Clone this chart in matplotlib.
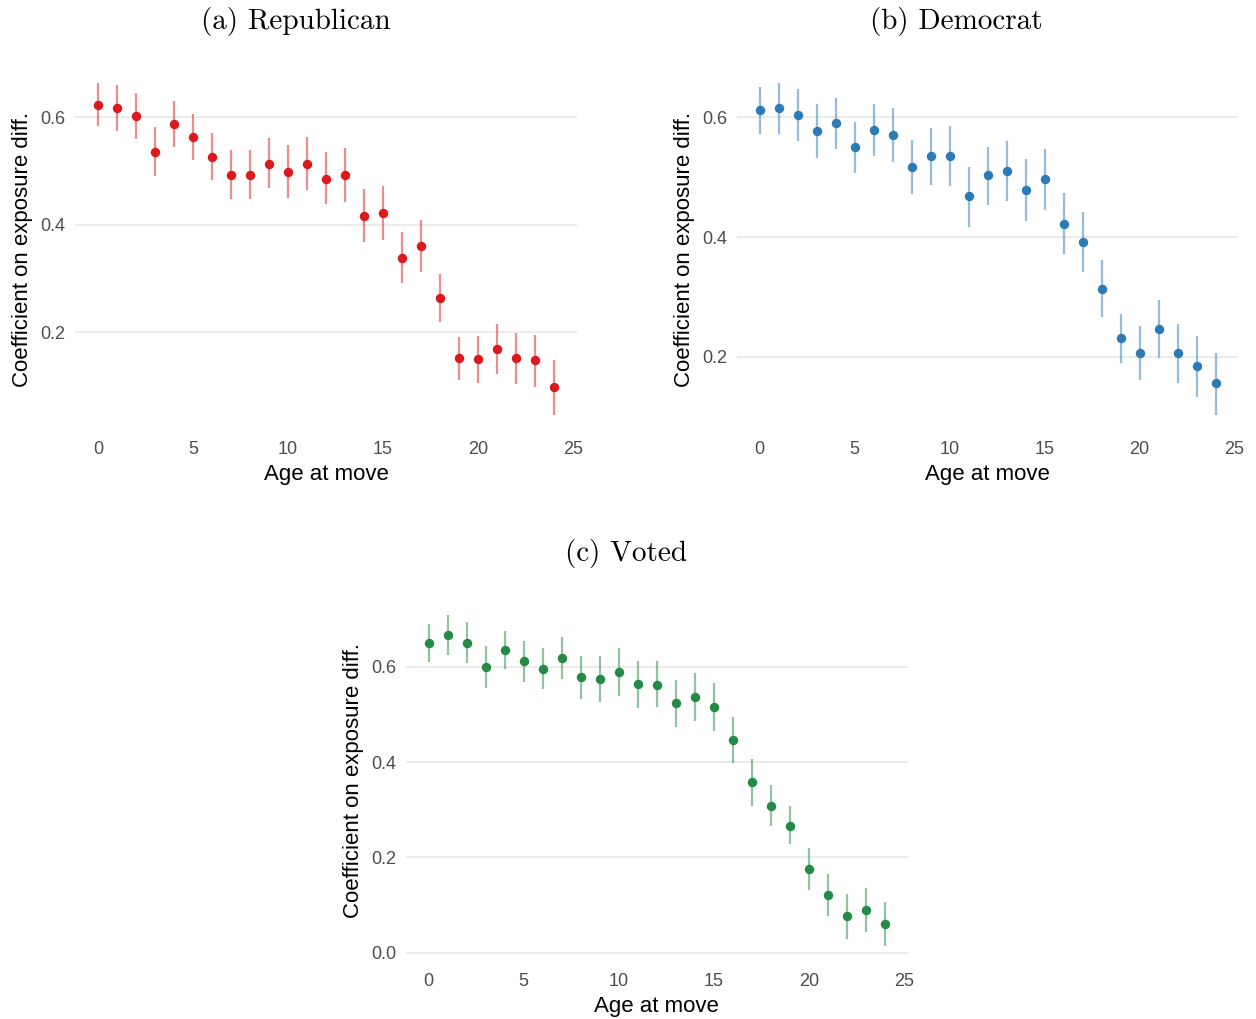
import numpy as np
import matplotlib
matplotlib.use("Agg")
import matplotlib.pyplot as plt

# age at move
ages = np.arange(0, 25)

# (a) Republican
rep_est = [0.623, 0.617, 0.602, 0.536, 0.588, 0.563, 0.527, 0.493, 0.493, 0.514,
           0.499, 0.513, 0.486, 0.493, 0.417, 0.422, 0.339, 0.360, 0.264, 0.152,
           0.150, 0.169, 0.153, 0.148, 0.098]
rep_lo = [0.583, 0.575, 0.559, 0.491, 0.545, 0.520, 0.483, 0.448, 0.448, 0.468,
          0.450, 0.465, 0.438, 0.443, 0.368, 0.371, 0.291, 0.312, 0.219, 0.112,
          0.106, 0.123, 0.105, 0.099, 0.047]
rep_hi = [0.663, 0.660, 0.646, 0.581, 0.630, 0.606, 0.571, 0.539, 0.539, 0.561,
          0.548, 0.563, 0.535, 0.542, 0.466, 0.473, 0.387, 0.409, 0.309, 0.191,
          0.193, 0.215, 0.199, 0.196, 0.148]

# (b) Democrat
dem_est = [0.612, 0.615, 0.604, 0.577, 0.591, 0.550, 0.579, 0.570, 0.517, 0.535,
           0.536, 0.468, 0.503, 0.511, 0.479, 0.497, 0.422, 0.392, 0.314, 0.232,
           0.207, 0.246, 0.206, 0.184, 0.156]
dem_lo = [0.572, 0.573, 0.560, 0.532, 0.548, 0.507, 0.535, 0.525, 0.472, 0.487,
          0.485, 0.417, 0.453, 0.460, 0.427, 0.445, 0.372, 0.341, 0.267, 0.190,
          0.161, 0.198, 0.156, 0.132, 0.103]
dem_hi = [0.651, 0.657, 0.647, 0.623, 0.632, 0.593, 0.623, 0.616, 0.563, 0.583,
          0.586, 0.518, 0.551, 0.561, 0.530, 0.548, 0.473, 0.442, 0.361, 0.272,
          0.252, 0.295, 0.255, 0.234, 0.207]

# (c) Voted
vot_est = [0.650, 0.667, 0.651, 0.600, 0.636, 0.612, 0.596, 0.618, 0.578, 0.574,
           0.589, 0.564, 0.563, 0.524, 0.537, 0.516, 0.447, 0.358, 0.309, 0.267,
           0.175, 0.120, 0.076, 0.090, 0.060]
vot_lo = [0.611, 0.625, 0.609, 0.555, 0.596, 0.569, 0.553, 0.574, 0.533, 0.526,
          0.539, 0.514, 0.515, 0.474, 0.486, 0.465, 0.399, 0.309, 0.265, 0.228,
          0.131, 0.076, 0.029, 0.043, 0.013]
vot_hi = [0.690, 0.709, 0.695, 0.644, 0.676, 0.654, 0.639, 0.662, 0.623, 0.622,
          0.639, 0.613, 0.612, 0.573, 0.587, 0.566, 0.495, 0.406, 0.353, 0.307,
          0.219, 0.166, 0.124, 0.136, 0.107]

x_ticks = [0, 5, 10, 15, 20, 25]
y_ticks = [0.0, 0.2, 0.4, 0.6]

W, H = 1256, 1019
fig = plt.figure(figsize=(W / 100, H / 100), dpi=100)
sans = ["Liberation Sans", "DejaVu Sans"]


def panel(left, top, est, lo, hi, color):
    # position given in pixels (left, top of the panel)
    ax = fig.add_axes([left / W, 1 - (top + 364.5) / H, 501.6 / W, 364.5 / H])
    est, lo, hi = np.array(est), np.array(lo), np.array(hi)
    ax.vlines(ages, lo, hi, color=color, alpha=0.5, lw=1.6, zorder=2)
    ax.plot(ages, est, "o", color=color, ms=6.8, mec="none", zorder=3)
    rng = hi.max() - lo.min()
    ax.set_ylim(lo.min() - 0.05 * rng, hi.max() + 0.05 * rng)
    ax.set_xlim(-1.2, 25.2)
    ax.set_xticks(x_ticks)
    ax.set_yticks([t for t in y_ticks if lo.min() - 0.05 * rng <= t])
    ax.set_yticklabels([f"{t:.1f}" for t in ax.get_yticks()])
    ax.grid(axis="y", color="#EBEBEB", lw=1.4)
    ax.set_axisbelow(True)
    for s in ax.spines.values():
        s.set_visible(False)
    ax.tick_params(length=0, pad=7, labelsize=13, labelcolor="#4D4D4D")
    for lab in ax.get_xticklabels() + ax.get_yticklabels():
        lab.set_family(sans)
    ax.set_xlabel("Age at move", fontsize=16, family=sans, labelpad=4.5)
    ax.set_ylabel("Coefficient on exposure diff.", fontsize=16, family=sans, labelpad=5)
    return ax


panel(75.2, 66.8, rep_est, rep_lo, rep_hi, "#DC1A1E")
panel(736.7, 66.8, dem_est, dem_lo, dem_hi, "#2C7BB6")
panel(406.0, 598.5, vot_est, vot_lo, vot_hi, "#238B45")

titles = ["(a) Republican", "(b) Democrat", "(c) Voted"]
title_pos = [(296, 21), (956, 21), (626, 553)]
for t, (px, py) in zip(titles, title_pos):
    fig.text(px / W, 1 - py / H, t, ha="center", va="center", fontsize=21, family="cmr10")

fig.savefig("out.png", dpi=100)
